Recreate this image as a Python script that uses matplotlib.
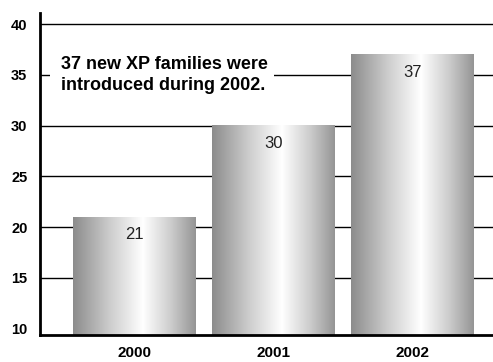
import numpy as np
import matplotlib.pyplot as plt
from matplotlib.colors import LinearSegmentedColormap
from matplotlib.patches import Rectangle

plt.rcParams['font.family'] = ['Liberation Sans', 'DejaVu Sans']

years = ["2000", "2001", "2002"]
families = [21, 30, 37]
y_ticks = [10, 15, 20, 25, 30, 35, 40]
note = "37 new XP families were\nintroduced during 2002."

fig = plt.figure(figsize=(4.93, 3.62), dpi=100)
ax = fig.add_axes([0.081, 0.075, 0.919, 0.889])

ymin, ymax = 9.4, 41.1
ax.set_xlim(-0.68, 2.58)
ax.set_ylim(ymin, ymax)

# gridlines behind bars
for t in y_ticks[1:]:
    ax.axhline(t, color="black", lw=1.0, zorder=1)

# metallic gradient for bars
cmap = LinearSegmentedColormap.from_list(
    "metal", [(0.0, "#8c8c8c"), (0.3, "#cdcdcd"), (0.57, "#ffffff"),
              (0.8, "#cccccc"), (1.0, "#959595")])
grad = np.linspace(0, 1, 256).reshape(1, -1)
width = 0.88
for i, v in enumerate(families):
    ax.imshow(grad, cmap=cmap, aspect="auto", zorder=2,
              extent=[i - width / 2, i + width / 2, ymin, v])
    ax.text(i, v - 1.0, str(v), ha="center", va="top", fontsize=12,
            color="#222222", zorder=3)

# white box behind the note hides part of the 35 gridline
ax.add_patch(Rectangle((-0.61, 33.3), 1.615, 3.6, facecolor="white",
                       edgecolor="none", zorder=1.5))
ax.text(-0.525, 35.0, note, ha="left", va="center", fontsize=13,
        fontweight="bold", linespacing=1.3, zorder=4)

ax.set_xticks(range(len(years)))
ax.set_xticklabels(years, fontweight="bold", fontsize=11)
ax.set_yticks(y_ticks)
ax.set_yticklabels([str(t) for t in y_ticks], fontweight="bold", fontsize=10.5)
ax.tick_params(axis="both", length=0)
ax.tick_params(axis="y", pad=9)
ax.tick_params(axis="x", pad=8)

for s in ["top", "right"]:
    ax.spines[s].set_visible(False)
ax.spines["left"].set_linewidth(2)
ax.spines["bottom"].set_linewidth(2)
ax.spines["left"].set_zorder(5)
ax.spines["bottom"].set_zorder(5)

fig.savefig("out.png", dpi=100)
